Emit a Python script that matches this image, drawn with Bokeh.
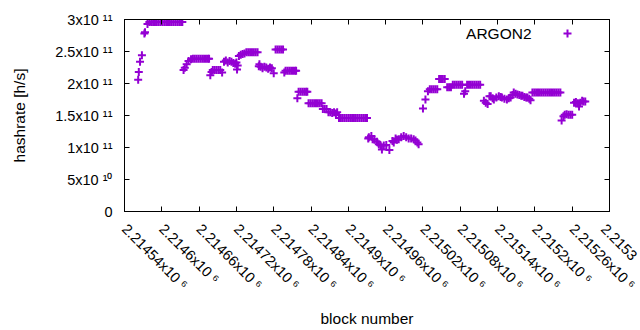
import math
from bokeh.plotting import figure
from bokeh.models import Range1d, FixedTicker, LinearAxis, Label, Legend, LegendItem
from bokeh.embed import file_html
from bokeh.resources import INLINE

# block numbers (x) and hashrate in units of 1e11 h/s (y)
blocks = [
    2214562, 2214563, 2214565, 2214568, 2214572, 2214573,
    2214577, 2214580, 2214583, 2214586, 2214589, 2214592, 2214595, 2214598, 2214601, 2214604,
    2214607, 2214610, 2214613, 2214616, 2214619, 2214622, 2214625, 2214628, 2214631, 2214633,
    2214635, 2214637, 2214640, 2214643,
    2214647, 2214650, 2214653, 2214656, 2214659, 2214662, 2214665, 2214668, 2214671, 2214674, 2214676,
    2214678, 2214680,
    2214682, 2214685, 2214688, 2214691, 2214694, 2214697,
    2214700, 2214703, 2214706, 2214709, 2214712, 2214715, 2214718, 2214720,
    2214721, 2214722,
    2214724, 2214727, 2214730, 2214733,
    2214736, 2214739, 2214742, 2214745, 2214748, 2214751, 2214754,
    2214756, 2214757,
    2214759, 2214762, 2214765, 2214768, 2214771, 2214774, 2214777,
    2214780,
    2214783, 2214786, 2214789, 2214792, 2214795,
    2214797, 2214799, 2214802, 2214805, 2214808, 2214811, 2214814, 2214816,
    2214818,
    2214820, 2214823, 2214826, 2214829, 2214832, 2214834,
    2214836, 2214839, 2214842, 2214845, 2214848, 2214851, 2214854, 2214857,
    2214859, 2214862, 2214865,
    2214868, 2214871, 2214874, 2214877, 2214880, 2214882,
    2214885, 2214888, 2214891, 2214894, 2214897, 2214900, 2214903, 2214906,
    2214909, 2214912, 2214915, 2214918, 2214921, 2214924, 2214927, 2214930,
    2214932, 2214933, 2214937, 2214939, 2214942, 2214946, 2214949, 2214952, 2214954, 2214957,
    2214961, 2214966, 2214971, 2214973, 2214976, 2214978, 2214981, 2214985, 2214989, 2214993,
    2214997, 2215001, 2215005, 2215008, 2215011, 2215013,
    2215020, 2215024, 2215028, 2215031, 2215034, 2215037, 2215040, 2215043,
    2215046, 2215049, 2215052, 2215055,
    2215059, 2215062, 2215065,
    2215068, 2215071, 2215074, 2215077, 2215080, 2215083,
    2215086, 2215088,
    2215091, 2215094, 2215097, 2215100, 2215103, 2215106, 2215109, 2215112,
    2215118, 2215121, 2215124, 2215127, 2215129, 2215132, 2215134, 2215138, 2215142, 2215145,
    2215147, 2215151, 2215155, 2215158, 2215161, 2215164, 2215166, 2215169, 2215172, 2215175,
    2215178, 2215180, 2215183, 2215186, 2215188, 2215191, 2215193,
    2215196, 2215199, 2215202, 2215205, 2215208, 2215211, 2215214, 2215217,
    2215220, 2215223, 2215226, 2215229, 2215232, 2215235, 2215238, 2215241,
    2215243, 2215246, 2215248, 2215251, 2215254, 2215257, 2215260,
    2215263, 2215266, 2215269, 2215271, 2215273, 2215276, 2215278, 2215281,
]
hashrate_e11 = [
    2.06, 2.18, 2.34, 2.44, 2.78, 2.80,
    2.93, 2.96, 2.96, 2.96, 2.96, 2.96, 2.96, 2.96, 2.96, 2.96,
    2.96, 2.96, 2.96, 2.96, 2.96, 2.96, 2.96, 2.96, 2.96, 2.96,
    2.21, 2.245, 2.30, 2.35,
    2.38, 2.385, 2.385, 2.385, 2.385, 2.385, 2.385, 2.385, 2.385, 2.385, 2.385,
    2.13, 2.18,
    2.21, 2.21, 2.21, 2.21, 2.21, 2.17,
    2.34, 2.36, 2.33, 2.35, 2.34, 2.32, 2.31, 2.33,
    2.22, 2.28,
    2.43, 2.45, 2.46, 2.47,
    2.49, 2.49, 2.49, 2.49, 2.49, 2.49, 2.49,
    2.27, 2.30,
    2.26, 2.24, 2.26, 2.25, 2.23, 2.25, 2.24,
    2.16,
    2.53, 2.53, 2.53, 2.53, 2.53,
    2.17, 2.20, 2.20, 2.20, 2.20, 2.20, 2.20, 2.20,
    1.77,
    1.87, 1.87, 1.87, 1.87, 1.87, 1.87,
    1.69, 1.69, 1.69, 1.69, 1.69, 1.69, 1.69, 1.69,
    1.60, 1.60, 1.60,
    1.55, 1.55, 1.54, 1.55, 1.53, 1.55,
    1.46, 1.46, 1.46, 1.46, 1.46, 1.46, 1.46, 1.46,
    1.46, 1.46, 1.46, 1.46, 1.46, 1.46, 1.46, 1.46,
    1.14, 1.16, 1.18, 1.13, 1.12, 1.09, 1.05, 1.03, 0.97, 1.03,
    1.04, 0.96, 1.10, 1.08, 1.14, 1.12, 1.13, 1.16, 1.18, 1.16,
    1.14, 1.14, 1.13, 1.11, 1.08, 1.05,
    1.61, 1.75, 1.88, 1.91, 1.91, 1.91, 1.91, 1.91,
    2.07, 2.07, 2.07, 2.07,
    1.94, 1.94, 1.94,
    1.98, 1.98, 1.98, 1.98, 1.98, 1.98,
    1.84, 1.88,
    1.98, 1.98, 1.98, 1.98, 1.98, 1.98, 1.98, 1.98,
    1.73, 1.70, 1.68, 1.80, 1.80, 1.77, 1.75, 1.78, 1.80, 1.79,
    1.78, 1.76, 1.75, 1.77, 1.78, 1.82, 1.86, 1.84, 1.83, 1.82,
    1.81, 1.81, 1.79, 1.78, 1.78, 1.76, 1.74,
    1.86, 1.86, 1.86, 1.86, 1.86, 1.86, 1.86, 1.86,
    1.86, 1.86, 1.86, 1.86, 1.86, 1.86, 1.86, 1.86,
    1.42, 1.49, 1.51, 1.52, 1.51, 1.51, 1.51,
    1.70, 1.71, 1.69, 1.64, 1.70, 1.73, 1.72, 1.72,
]
hashrate = [v * 1e11 for v in hashrate_e11]

x_ticks = [2214540, 2214600, 2214660, 2214720, 2214780, 2214840, 2214900,
           2214960, 2215020, 2215080, 2215140, 2215200, 2215260, 2215320]
# the last label runs off the page edge in the original; only its visible part is kept
x_tick_labels = ["2.21454x10 \u2076", "2.2146x10 \u2076", "2.21466x10 \u2076", "2.21472x10 \u2076",
                 "2.21478x10 \u2076", "2.21484x10 \u2076", "2.2149x10 \u2076", "2.21496x10 \u2076",
                 "2.21502x10 \u2076", "2.21508x10 \u2076", "2.21514x10 \u2076", "2.2152x10 \u2076",
                 "2.21526x10 \u2076", "2.2153"]
y_ticks = [0, 5e10, 1e11, 1.5e11, 2e11, 2.5e11, 3e11]
y_tick_labels = ["0", "5x10 \u00b9\u2070", "1x10 \u00b9\u00b9", "1.5x10 \u00b9\u00b9", "2x10 \u00b9\u00b9",
                 "2.5x10 \u00b9\u00b9", "3x10 \u00b9\u00b9"]
series_name = "ARGON2"

FONT = "Liberation Sans"
COLOR = "#9400D3"
TICK_FONT = "14.5px"

p = figure(width=640, height=330, output_backend="svg", toolbar_location=None,
           x_range=Range1d(2214540, 2215320), y_range=Range1d(0, 3e11),
           min_border_left=124, min_border_right=31, min_border_top=19, min_border_bottom=119)
p.background_fill_color = "white"
p.border_fill_color = "white"
p.outline_line_color = "black"
p.outline_line_width = 1
p.xgrid.visible = False
p.ygrid.visible = False

r = p.scatter(blocks, hashrate, marker="cross", size=8, line_width=2, line_color=COLOR)

xa = p.xaxis[0]
xa.ticker = FixedTicker(ticks=x_ticks, minor_ticks=[])
xa.major_label_overrides = dict(zip(x_ticks, x_tick_labels))
xa.major_label_orientation = -math.pi / 4
xa.axis_label = "block number"
ya = p.yaxis[0]
ya.ticker = FixedTicker(ticks=y_ticks, minor_ticks=[])
ya.major_label_overrides = dict(zip(y_ticks, y_tick_labels))
ya.axis_label = "hashrate [h/s]"

for ax in (xa, ya):
    ax.major_tick_in = 5
    ax.major_tick_out = 0
    ax.minor_tick_line_color = None
    ax.axis_line_color = "black"
    ax.major_tick_line_color = "black"
    ax.major_label_text_font = FONT
    ax.major_label_text_font_size = TICK_FONT
    ax.major_label_text_color = "black"
    ax.axis_label_text_font = FONT
    ax.axis_label_text_font_size = "15.5px"
    ax.axis_label_text_font_style = "normal"
    ax.axis_label_text_color = "black"
xa.major_label_standoff = 15
xa.axis_label_standoff = 9
ya.major_label_standoff = 12
ya.axis_label_standoff = 24

top = LinearAxis(ticker=FixedTicker(ticks=x_ticks, minor_ticks=[]))
right = LinearAxis(ticker=FixedTicker(ticks=y_ticks, minor_ticks=[]))
for ax in (top, right):
    ax.major_tick_in = 5
    ax.major_tick_out = 0
    ax.minor_tick_line_color = None
    ax.major_label_text_font_size = "0px"
    ax.major_label_text_color = None
    ax.major_label_standoff = 0
    ax.axis_line_color = "black"
    ax.major_tick_line_color = "black"
p.add_layout(top, "above")
p.add_layout(right, "right")

legend = Legend(items=[LegendItem(label=" ", renderers=[r])], location=(433, 168),
                glyph_width=20, glyph_height=20, label_height=20, label_width=0,
                label_text_font_size="1px", label_text_color=None, padding=0, margin=0, spacing=0,
                border_line_color=None, background_fill_alpha=0)
p.add_layout(legend, "center")
p.add_layout(Label(x=407, y=178, x_units="screen", y_units="screen", text=series_name,
                   text_align="right", text_baseline="middle", text_font=FONT,
                   text_font_size="15.5px", text_color="black"))

open("out.html", "w").write(file_html(p, INLINE))
